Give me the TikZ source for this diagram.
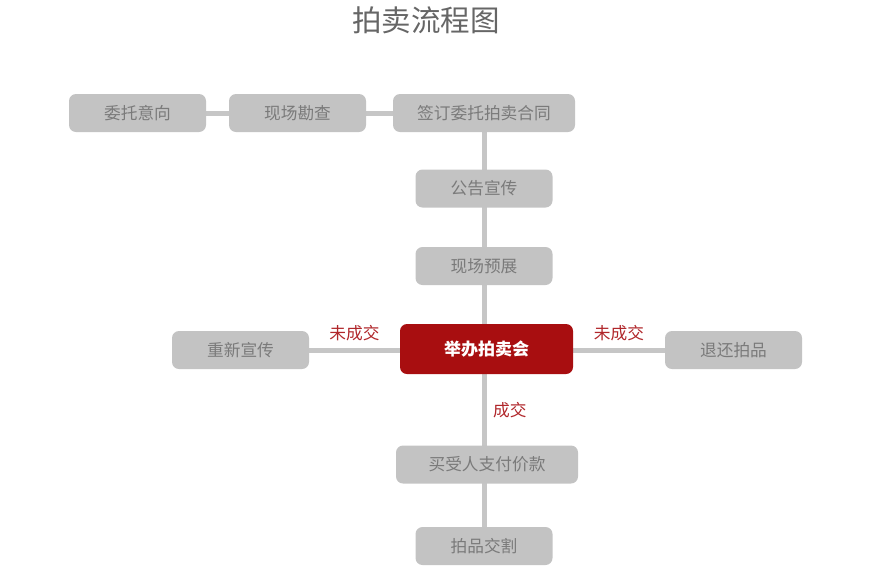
\documentclass[tikz,border=0pt]{standalone}
\usepackage{fontspec}
\setmainfont{Noto Sans CJK SC}
\usepackage{xcolor}
\usepackage{tikz}
\usetikzlibrary{backgrounds}

\definecolor{boxgray}{HTML}{C3C3C3}
\definecolor{txtgray}{HTML}{7A7A7A}
\definecolor{linegray}{HTML}{C6C6C6}
\definecolor{auctred}{HTML}{A80E10}
\definecolor{tagred}{HTML}{B0262A}

\begin{document}
\begin{tikzpicture}[x=1pt, y=-1pt,
    block/.style={rectangle, fill=boxgray, text=txtgray, font=\fontsize{16.7}{18}\selectfont, minimum width=137pt, minimum height=38pt, rounded corners=7pt, inner sep=0pt},
    wide/.style={block, minimum width=182pt},
    hot/.style={rectangle, fill=auctred, text=white, font=\fontsize{17}{18}\selectfont\bfseries, minimum width=173pt, minimum height=50pt, rounded corners=7pt},
    line/.style={draw, linegray, line width=5pt},
    tag/.style={text=tagred, font=\fontsize{16.7}{18}\selectfont, inner sep=3pt}]

    \useasboundingbox (0,0) rectangle (872,584);

    % Title
    \node [text=black!60, font=\fontsize{29.5}{32}\selectfont] (title) at (426,20) {拍卖流程图};

    % Nodes
    \node [block] (intent) at (137.5,113) {委托意向};
    \node [block] (survey) at (297.5,113) {现场勘查};
    \node [wide] (sign) at (484,113) {签订委托拍卖合同};
    \node [block] (notice) at (484,188.5) {公告宣传};
    \node [block] (preview) at (484,266) {现场预展};
    \node [hot] (auction) at (486.5,349) {举办拍卖会};
    \node [block] (repub) at (240.5,350) {重新宣传};
    \node [block] (return) at (733.5,350) {退还拍品};
    \node [wide] (pay) at (487,464.5) {买受人支付价款};
    \node [block] (deliver) at (484,546) {拍品交割};

    % Paths
    \begin{scope}[on background layer]
    \path [line] (intent) -- (survey) -- (sign);
    \path [line] (sign.center) -- (deliver.center);
    \path [line] (repub) -- node [tag, above=4pt] {未成交} (auction.west |- repub);
    \path [line] (auction.east |- return) -- node [tag, above=4pt] {未成交} (return);
    \path (auction.south -| sign) -- node [tag, right=6pt] {成交} (pay.north -| sign);
    \end{scope}

\end{tikzpicture}
\end{document}
